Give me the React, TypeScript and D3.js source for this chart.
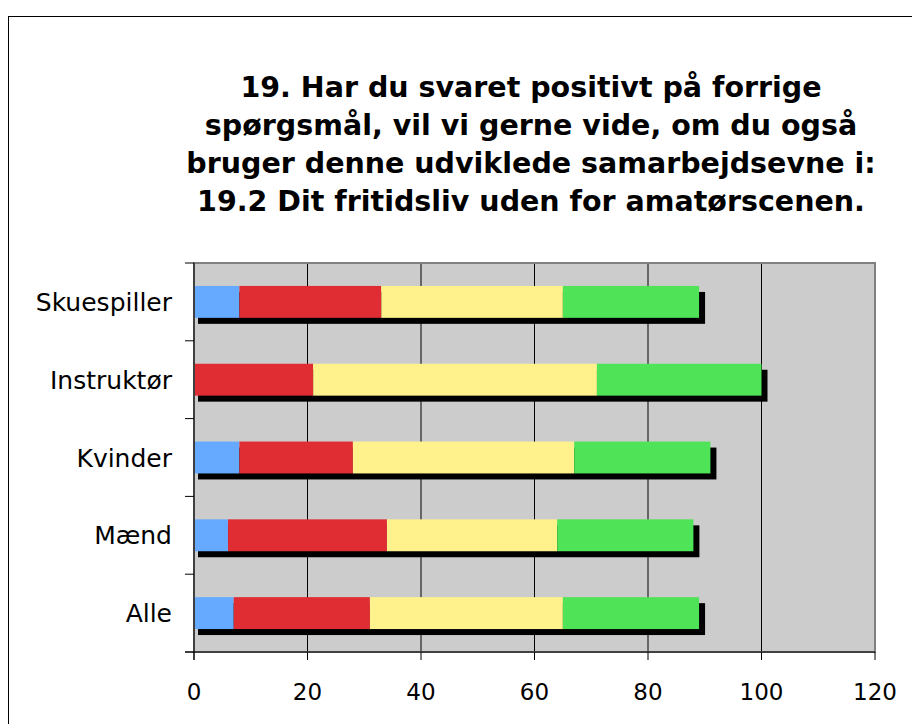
import React from "react";
import * as d3 from "d3";

const categories = ["Skuespiller", "Instruktør", "Kvinder", "Mænd", "Alle"];
const seriesKeys = ["a", "b", "c", "d"];
const blueValues = [8, 0, 8, 6, 7];
const redValues = [25, 21, 20, 28, 24];
const yellowValues = [32, 50, 39, 30, 34];
const greenValues = [24, 29, 24, 24, 24];
const seriesColors = ["#66aaff", "#e02c33", "#fff28d", "#4fe357"];
const xTicks = [0, 20, 40, 60, 80, 100, 120];
const titleLines = [
  "19. Har du svaret positivt på forrige",
  "spørgsmål, vil vi gerne vide, om du også",
  "bruger denne udviklede samarbejdsevne i:",
  "19.2 Dit fritidsliv uden for amatørscenen.",
];

const W = 912;
const H = 724;
const plot = { left: 194, right: 875, top: 263, bottom: 652 };

export default function App() {
  const rows = categories.map((c, i) => ({
    cat: c,
    a: blueValues[i],
    b: redValues[i],
    c: yellowValues[i],
    d: greenValues[i],
  }));

  const x = d3.scaleLinear().domain([0, 120]).range([plot.left, plot.right]);
  const y = d3
    .scaleBand<string>()
    .domain(categories)
    .range([plot.top, plot.bottom])
    .paddingInner(0.59)
    .paddingOuter(0.295);

  const stacked = d3.stack<any>().keys(seriesKeys)(rows);
  const step = y.step();
  const font = "'DejaVu Sans', Verdana, sans-serif";

  return (
    <div style={{ position: "absolute", left: 0, top: 0 }}>
      <svg width={W} height={H} style={{ display: "block", background: "#fff" }}>
        {/* outer chart frame */}
        <rect x={8.5} y={16.5} width={W + 20} height={H + 20} fill="#fff" stroke="#000" strokeWidth={1} />

        {/* title */}
        <text
          x={531}
          textAnchor="middle"
          fontFamily={font}
          fontWeight="bold"
          fontSize={28.5}
          fill="#000"
        >
          {titleLines.map((l, i) => (
            <tspan key={i} x={531} y={97 + i * 38}>
              {l}
            </tspan>
          ))}
        </text>

        {/* plot background */}
        <rect
          x={plot.left}
          y={plot.top}
          width={plot.right - plot.left}
          height={plot.bottom - plot.top}
          fill="#cccccc"
        />

        {/* gridlines */}
        {xTicks.slice(1, -1).map((t) => (
          <line key={t} x1={x(t)} x2={x(t)} y1={plot.top} y2={plot.bottom} stroke="#000" strokeWidth={1} />
        ))}

        {/* shadows */}
        {rows.map((r) => {
          const total = r.a + r.b + r.c + r.d;
          return (
            <rect
              key={r.cat}
              x={x(0) + 4}
              y={(y(r.cat) as number) + 6}
              width={x(total) - x(0) + 2}
              height={y.bandwidth()}
              fill="#000"
            />
          );
        })}

        {/* stacked segments */}
        {stacked.map((s, si) => (
          <g key={s.key} fill={seriesColors[si]}>
            {s.map((d, di) => (
              <rect
                key={di}
                x={x(d[0])}
                y={y(d.data.cat) as number}
                width={Math.max(0, x(d[1]) - x(d[0]))}
                height={y.bandwidth()}
              />
            ))}
          </g>
        ))}

        {/* plot border */}
        <rect
          x={plot.left}
          y={plot.top}
          width={plot.right - plot.left}
          height={plot.bottom - plot.top}
          fill="none"
          stroke="#808080"
          strokeWidth={2}
        />

        {/* y axis */}
        <line x1={plot.left} x2={plot.left} y1={plot.top} y2={plot.bottom + 8} stroke="#000" strokeWidth={1} />
        {d3.range(categories.length + 1).map((i) => (
          <line
            key={i}
            x1={plot.left - 9}
            x2={plot.left}
            y1={plot.top + i * step}
            y2={plot.top + i * step}
            stroke="#000"
          />
        ))}
        {categories.map((c) => (
          <text
            key={c}
            x={172}
            y={(y(c) as number) + y.bandwidth() / 2}
            dy="0.36em"
            textAnchor="end"
            fontFamily={font}
            fontSize={25}
            fill="#000"
          >
            {c}
          </text>
        ))}

        {/* x axis */}
        <line x1={plot.left - 9} x2={plot.right} y1={plot.bottom} y2={plot.bottom} stroke="#000" />
        {xTicks.map((t) => (
          <g key={t}>
            <line x1={x(t)} x2={x(t)} y1={plot.bottom} y2={plot.bottom + 8} stroke="#000" />
            <text x={x(t)} y={700} textAnchor="middle" fontFamily={font} fontSize={23} fill="#000">
              {t}
            </text>
          </g>
        ))}
      </svg>
    </div>
  );
}
